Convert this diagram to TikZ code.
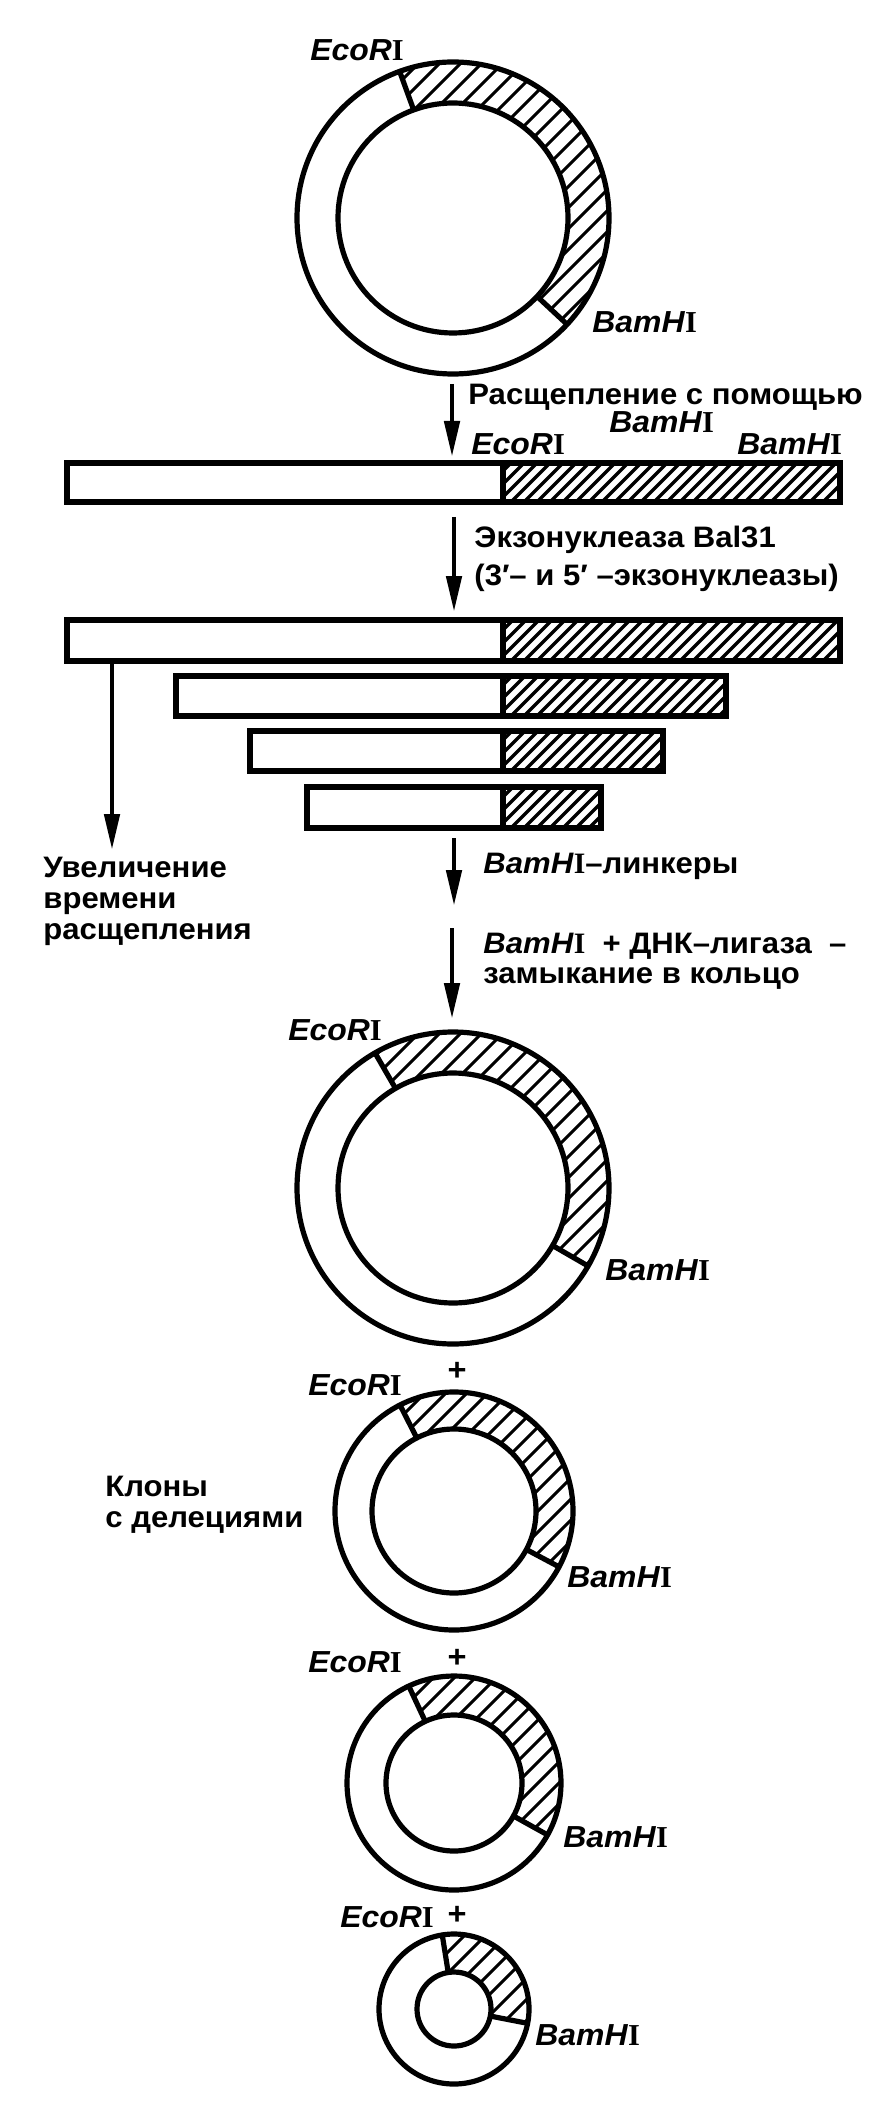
\documentclass[tikz,border=0pt]{standalone}
\usepackage{fontspec}
\setmainfont{Liberation Sans}[FakeStretch=1.05]
\newfontfamily\romI{Liberation Serif}
\usetikzlibrary{arrows.meta,calc}

\newcommand\enz[1]{\textit{#1}{\romI\bfseries I}}

\tikzset{
  ring/.style={line width=2.6pt},
  hatchline/.style={line width=1.55pt},
  barhatch/.style={line width=1.75pt},
  barline/.style={line width=2.75pt},
  arr/.style={line width=2.4pt,-{Triangle[length=18pt,width=7.5pt]}},
  lab/.style={anchor=base west,inner sep=0pt,font=\bfseries\fontsize{14.8}{15.5}\selectfont},
  enzl/.style={anchor=base west,inner sep=0pt,font=\bfseries\fontsize{15.2}{16.5}\selectfont},
  plus/.style={anchor=center,inner sep=0pt,font=\bfseries\fontsize{15.5}{16.5}\selectfont},
}

% #1 name, #2 cx, #3 cy, #4 R, #5 r, #6 angle at BamHI, #7 angle at EcoRI (TikZ angles, y is flipped)
\newcommand\plasmid[7]{%
  \coordinate (#1) at (#2,#3);
  \begin{scope}
    \clip ($(#1)+(#6:#4)$) arc[start angle=#6, end angle=#7, radius=#4]
      -- ($(#1)+(#7:#5)$) arc[start angle=#7, end angle=#6, radius=#5] -- cycle;
    \foreach \k in {-252,-231,...,252}
      \draw[hatchline] ($(#1)+(\k-#4,#4)$) -- ($(#1)+(\k+#4,-#4)$);
  \end{scope}
  \draw[ring] (#1) circle[radius=#4];
  \draw[ring] (#1) circle[radius=#5];
  \draw[ring] ($(#1)+(#6:#5)$) -- ($(#1)+(#6:#4)$);
  \draw[ring] ($(#1)+(#7:#5)$) -- ($(#1)+(#7:#4)$);
}

% #1 name, #2 x0, #3 y0, #4 x1, #5 y1
\newcommand\dnabar[5]{%
  \coordinate (#1) at (#2,#3);
  \begin{scope}
    \clip (503,#3) rectangle (#4,#5);
    \foreach \k in {440,453,...,860}
      \draw[barhatch] (\k,#5+6) -- (\k+60,#5-54);
  \end{scope}
  \draw[barline] (#2,#3) rectangle (#4,#5);
  \draw[barline] (503,#3) -- (503,#5);
}

\begin{document}
\begin{tikzpicture}[x=0.5pt,y=-0.5pt]
\useasboundingbox (0,0) rectangle (892,2128);

% top plasmid
\plasmid{p1}{453}{218}{156}{115}{43}{-110}
\node[enzl] (e1) at (310,61) {\enz{EcoR}};
\node[enzl] (b1) at (592,333) {\enz{BamH}};

% step 1
\coordinate (a1s) at (452,384);
\coordinate (a1e) at (452,457);
\draw[arr] (a1s) -- (a1e);
\node[lab] (t1) at (468,405) {Расщепление с помощью};
\node[enzl] (t1b) at (609,433) {\enz{BamH}};
\node[enzl] (e2) at (471,455) {\enz{EcoR}};
\node[enzl] (b2) at (737,455) {\enz{BamH}};

\dnabar{bar1}{67}{463}{840}{502}

% step 2
\coordinate (a2s) at (454,517);
\coordinate (a2e) at (454,612);
\draw[arr] (a2s) -- (a2e);
\node[lab] (t2) at (474,547) {Экзонуклеаза Bal31};
\node[lab] (t3) at (474,585) {(3′– и 5′ –экзонуклеазы)};

\dnabar{barA}{67}{620}{840}{661}
\dnabar{barB}{176}{676}{726}{716}
\dnabar{barC}{250}{731}{663}{771}
\dnabar{barD}{307}{787}{601}{828}

% time arrow
\coordinate (lts) at (112,663);
\coordinate (lte) at (112,850);
\draw[arr] (lts) -- (lte);
\node[lab] (u1) at (43,877) {Увеличение};
\node[lab] (u2) at (43,908) {времени};
\node[lab] (u3) at (43,939) {расщепления};

% step 3
\coordinate (a3s) at (454,838);
\coordinate (a3e) at (454,906);
\draw[arr] (a3s) -- (a3e);
\node[lab] (t4) at (483,873) {\textit{BamH}{\romI\bfseries I}–линкеры};

% step 4
\coordinate (a4s) at (452,928);
\coordinate (a4e) at (452,1019);
\draw[arr] (a4s) -- (a4e);
\node[lab] (t5) at (483,953) {\textit{BamH}{\romI\bfseries I}\ \ + ДНК–лигаза \ –};
\node[lab] (t6) at (483,983) {замыкание в кольцо};

% result plasmids
\plasmid{p2}{453}{1188}{156}{115}{30}{-120}
\node[enzl] (e3) at (288,1040) {\enz{EcoR}};
\node[enzl] (b3) at (605,1280) {\enz{BamH}};

\node[plus] (pl1) at (457,1371) {+};
\plasmid{p3}{454}{1511}{119}{82}{28}{-117}
\node[enzl] (e4) at (308,1395) {\enz{EcoR}};
\node[enzl] (b4) at (567,1587) {\enz{BamH}};
\node[lab] (k1) at (105,1496) {Клоны};
\node[lab] (k2) at (105,1527) {с делециями};

\node[plus] (pl2) at (457,1658) {+};
\plasmid{p4}{454}{1783}{107}{68}{29}{-115}
\node[enzl] (e5) at (308,1672) {\enz{EcoR}};
\node[enzl] (b5) at (563,1847) {\enz{BamH}};

\node[plus] (pl3) at (457,1915) {+};
\plasmid{p5}{454}{2009}{75}{37}{11}{-99}
\node[enzl] (e6) at (340,1927) {\enz{EcoR}};
\node[enzl] (b6) at (535,2045) {\enz{BamH}};
\end{tikzpicture}
\end{document}
